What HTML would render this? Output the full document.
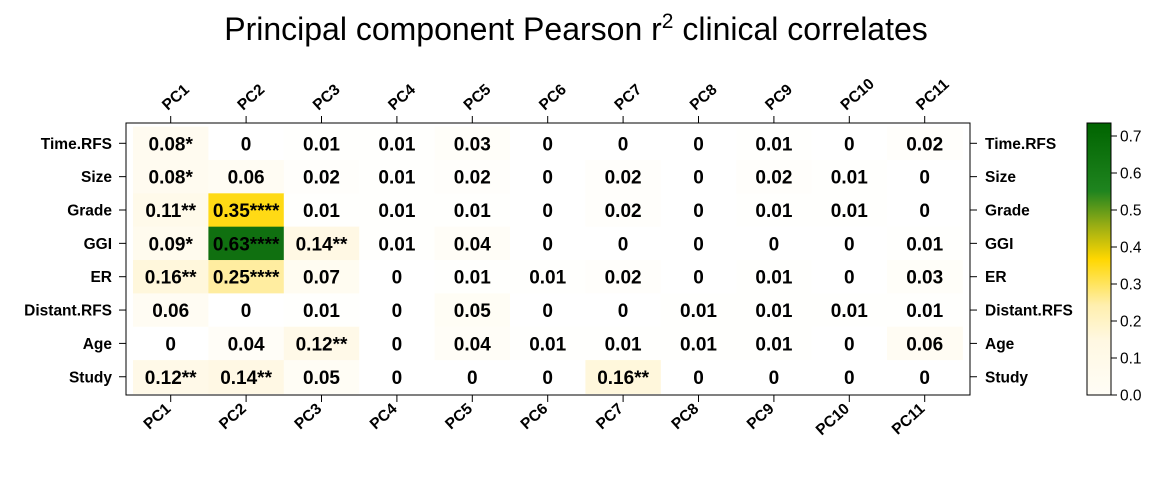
<!DOCTYPE html>
<html><head><meta charset="utf-8"><style>
html,body{margin:0;padding:0;background:#fff;}
svg{display:block;font-family:"Liberation Sans",Arial,sans-serif;}
</style></head><body>
<svg id="s" width="1152" height="480" xmlns="http://www.w3.org/2000/svg">
<text x="576" y="40" text-anchor="middle" font-size="32">Principal component Pearson r<tspan dy="-12" font-size="21">2</tspan><tspan dy="12"> clinical correlates</tspan></text>
<defs><linearGradient id="g" x1="0" y1="1" x2="0" y2="0">
<stop offset="0" stop-color="#fffdf6"/><stop offset="0.2" stop-color="#fff8e2"/><stop offset="0.33" stop-color="#ffefae"/><stop offset="0.5" stop-color="#ffd700"/><stop offset="0.62" stop-color="#9cae14"/><stop offset="0.75" stop-color="#1f841f"/><stop offset="1" stop-color="#006400"/></linearGradient></defs>
<g id="cells"></g>
<rect x="126" y="123" width="844" height="272" fill="none" stroke="#000" stroke-width="1"/>
<rect x="1087" y="123" width="24" height="272" fill="url(#g)" stroke="#000" stroke-width="1"/>
</svg>
<script>
var rows=["Time.RFS","Size","Grade","GGI","ER","Distant.RFS","Age","Study"];
var d=[
["0.08*","0","0.01","0.01","0.03","0","0","0","0.01","0","0.02"],
["0.08*","0.06","0.02","0.01","0.02","0","0.02","0","0.02","0.01","0"],
["0.11**","0.35****","0.01","0.01","0.01","0","0.02","0","0.01","0.01","0"],
["0.09*","0.63****","0.14**","0.01","0.04","0","0","0","0","0","0.01"],
["0.16**","0.25****","0.07","0","0.01","0.01","0.02","0","0.01","0","0.03"],
["0.06","0","0.01","0","0.05","0","0","0.01","0.01","0.01","0.01"],
["0","0.04","0.12**","0","0.04","0.01","0.01","0.01","0.01","0","0.06"],
["0.12**","0.14**","0.05","0","0","0","0.16**","0","0","0","0"]];
var stops=[[0,[255,255,255]],[0.15,[255,248,226]],[0.24,[255,239,174]],[0.365,[255,215,0]],[0.45,[156,174,20]],[0.55,[28,122,28]],[0.73,[0,100,0]]];
function col(v){for(var i=1;i<stops.length;i++){if(v<=stops[i][0]){var a=stops[i-1],b=stops[i],t=(v-a[0])/(b[0]-a[0]);return "rgb("+[0,1,2].map(function(k){return Math.round(a[1][k]+(b[1][k]-a[1][k])*t)}).join(",")+")";}}return "rgb(0,100,0)";}
var h="",cw=75.4,rh=33.35,x0=170.7,y0=143.3;
for(var r=0;r<8;r++)for(var c=0;c<11;c++){var v=parseFloat(d[r][c]);var cx=x0+c*cw,cy=y0+r*rh;
h+='<rect x="'+(cx-cw/2)+'" y="'+(cy-rh/2)+'" width="'+(cw+0.5)+'" height="'+(rh+0.5)+'" fill="'+col(v)+'"/>';
h+='<text x="'+cx+'" y="'+(cy+7)+'" text-anchor="middle" font-size="19" font-weight="bold">'+d[r][c]+'</text>';}
for(var r=0;r<8;r++){var cy=y0+r*rh;
h+='<line x1="119" y1="'+cy+'" x2="126" y2="'+cy+'" stroke="#000"/><line x1="970" y1="'+cy+'" x2="977" y2="'+cy+'" stroke="#000"/>';
h+='<text x="112" y="'+(cy+5.5)+'" text-anchor="end" font-size="15.5" font-weight="bold">'+rows[r]+'</text>';
h+='<text x="985" y="'+(cy+5.5)+'" font-size="15.5" font-weight="bold">'+rows[r]+'</text>';}
for(var c=0;c<11;c++){var cx=x0+c*cw;var n="PC"+(c+1);
h+='<line x1="'+cx+'" y1="116" x2="'+cx+'" y2="123" stroke="#000"/><line x1="'+cx+'" y1="395" x2="'+cx+'" y2="402" stroke="#000"/>';
h+='<text transform="translate('+(cx-3)+',111) rotate(-42)" font-size="15.5" font-weight="bold">'+n+'</text>';
h+='<text transform="translate('+(cx+1)+',410) rotate(-42)" text-anchor="end" font-size="15.5" font-weight="bold">'+n+'</text>';}
for(var i=0;i<=7;i++){var y=395-i*37;h+='<line x1="1111" y1="'+y+'" x2="1117" y2="'+y+'" stroke="#000"/><text x="1120" y="'+(y+5.5)+'" font-size="15.5">'+(i/10).toFixed(1)+'</text>';}
document.getElementById("cells").innerHTML=h;
</script>
</body></html>
